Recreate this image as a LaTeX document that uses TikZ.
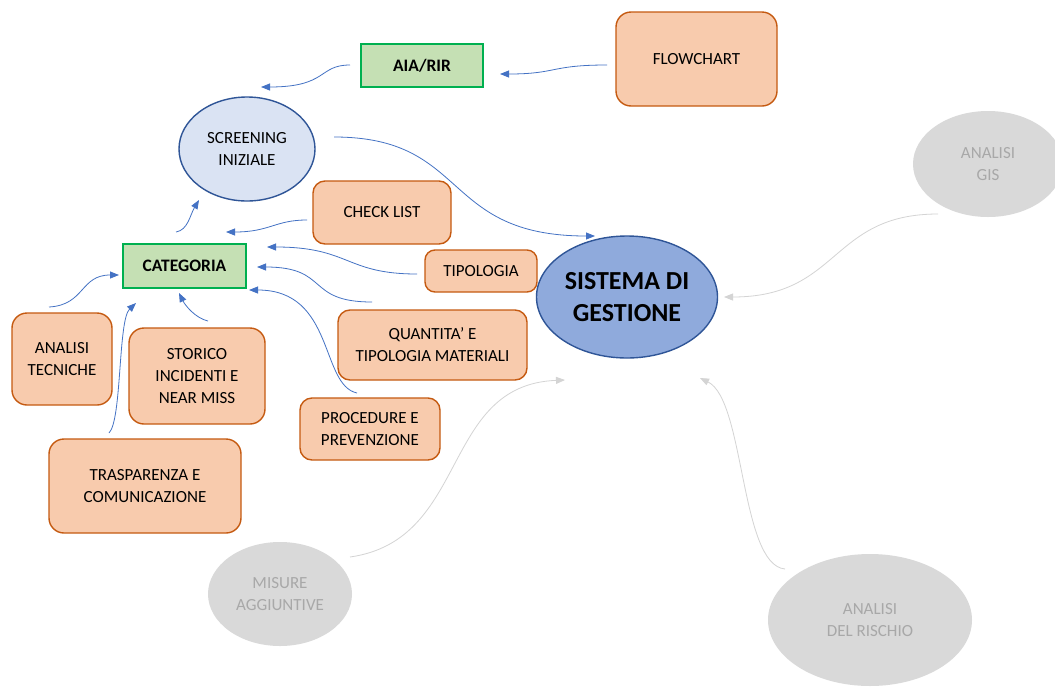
\documentclass[tikz,border=0pt]{standalone}
\usepackage{fontspec}
\setmainfont{Carlito}
\usetikzlibrary{arrows.meta,shapes.geometric}

\definecolor{topicfill}{HTML}{F8CBAD}
\definecolor{topicline}{HTML}{C55A11}
\definecolor{catfill}{HTML}{C5E0B4}
\definecolor{catline}{HTML}{00B050}
\definecolor{scrfill}{HTML}{DAE3F3}
\definecolor{ellline}{HTML}{2F5597}
\definecolor{sysfill}{HTML}{8FAADC}
\definecolor{greyfill}{HTML}{D9D9D9}
\definecolor{greytext}{HTML}{A8A8A8}
\definecolor{flowblue}{HTML}{4472C4}
\definecolor{flowgrey}{HTML}{D4D4D4}

\tikzset{
  txt/.style={font=\fontsize{17}{22}\selectfont, align=center, inner sep=0pt, text=black},
  topic/.style={txt, rectangle, rounded corners=12pt, draw=topicline, fill=topicfill, line width=1.4pt},
  catbox/.style={txt, rectangle, draw=catline, fill=catfill, line width=1.4pt,
                 font=\fontsize{17.5}{22}\selectfont\bfseries},
  oval/.style={txt, ellipse, line width=1.4pt},
  ghost/.style={txt, ellipse, fill=greyfill, draw=none, text=greytext},
  conn/.style={draw=flowblue, line width=0.8pt, -{Triangle[length=9pt,width=7pt]}},
  ghostconn/.style={draw=flowgrey, line width=0.8pt, -{Triangle[length=9pt,width=7pt]}},
}

\begin{document}
\begin{tikzpicture}[x=1pt,y=-1pt]
  \fill[white] (0,0) rectangle (1055,686);
  \useasboundingbox (0,0) rectangle (1055,686);

  % main nodes
  \node[topic, rounded corners=15pt, minimum width=161pt, minimum height=94pt] (flow) at (696.5,59) {FLOWCHART};
  \node[catbox, minimum width=122pt, minimum height=43pt] (aia) at (422,65.5) {AIA/RIR};
  \node[oval, draw=ellline, fill=scrfill, minimum width=136pt, minimum height=104pt] (scr) at (247,149) {SCREENING\\INIZIALE};
  \node[topic, minimum width=138pt, minimum height=63pt] (check) at (382,212.5) {CHECK LIST};
  \node[catbox, minimum width=123pt, minimum height=44pt] (cat) at (184.5,266) {CATEGORIA};
  \node[topic, rounded corners=10pt, minimum width=112pt, minimum height=42pt] (tipo) at (481,271) {TIPOLOGIA};
  \node[topic, minimum width=189pt, minimum height=70pt] (quant) at (432.5,345) {QUANTITA’ E\\TIPOLOGIA MATERIALI};
  \node[oval, draw=ellline, fill=sysfill, minimum width=181pt, minimum height=122pt,
        font=\fontsize{26}{32}\selectfont\bfseries] (sys) at (627,297) {SISTEMA DI\\GESTIONE};
  \node[topic, rounded corners=15pt, minimum width=100pt, minimum height=92pt] (tec) at (62,359) {ANALISI\\TECNICHE};
  \node[topic, rounded corners=15pt, minimum width=136pt, minimum height=96pt] (sto) at (197,376) {STORICO\\INCIDENTI E\\NEAR MISS};
  \node[topic, minimum width=140pt, minimum height=62pt] (proc) at (370,429) {PROCEDURE E\\PREVENZIONE};
  \node[topic, rounded corners=15pt, minimum width=192pt, minimum height=94pt] (tra) at (145,486) {TRASPARENZA E\\COMUNICAZIONE};

  % faded nodes
  \node[ghost, minimum width=144pt, minimum height=104pt] (mis) at (280,594) {MISURE\\AGGIUNTIVE};
  \node[ghost, minimum width=150pt, minimum height=106pt] (gis) at (988,164) {ANALISI\\GIS};
  \node[ghost, minimum width=204pt, minimum height=132pt] (risk) at (870,620) {ANALISI\\DEL RISCHIO};

  % connector end points
  \coordinate (flowS) at (607,65);   \coordinate (aiaT) at (500,74);
  \coordinate (aiaS) at (350,65);    \coordinate (scrT) at (261,87);
  \coordinate (scrS) at (334,137);   \coordinate (sysT) at (595,236);
  \coordinate (catS) at (176,232);   \coordinate (scrB) at (199,200);
  \coordinate (checkS) at (307,220); \coordinate (catA) at (226,232);
  \coordinate (tipoS) at (417,274);  \coordinate (catB) at (267,247);
  \coordinate (quantS) at (372,302); \coordinate (catC) at (257,267);
  \coordinate (procS) at (357,393);  \coordinate (catD) at (249,290);
  \coordinate (stoS) at (208,321);   \coordinate (catE) at (179,293);
  \coordinate (traS) at (109,433);   \coordinate (catF) at (136,303);
  \coordinate (tecS) at (49,307);    \coordinate (catG) at (119,275);
  \coordinate (gisS) at (938,214);   \coordinate (sysA) at (724,297);
  \coordinate (riskS) at (785,569);  \coordinate (sysB) at (700,378);
  \coordinate (misS) at (350,557);   \coordinate (sysC) at (565,380);

  % blue connectors
  \draw[conn] (flowS) .. controls (550,65) and (557,74) .. (aiaT);
  \draw[conn] (aiaS) .. controls (318,65) and (328,87) .. (scrT);
  \draw[conn] (scrS) .. controls (470,137) and (440,236) .. (sysT);
  \draw[conn] (catS) .. controls (188,230) and (190,215) .. (scrB);
  \draw[conn] (checkS) .. controls (275,220) and (270,232) .. (catA);
  \draw[conn] (tipoS) .. controls (345,274) and (350,247) .. (catB);
  \draw[conn] (quantS) .. controls (305,302) and (330,267) .. (catC);
  \draw[conn] (procS) .. controls (320,385) and (335,290) .. (catD);
  \draw[conn] (stoS) .. controls (195,318) and (185,305) .. (catE);
  \draw[conn] (traS) .. controls (122,420) and (118,320) .. (catF);
  \draw[conn] (tecS) .. controls (85,305) and (80,275) .. (catG);

  % faded connectors
  \draw[ghostconn] (gisS) .. controls (830,214) and (840,297) .. (sysA);
  \draw[ghostconn] (riskS) .. controls (740,565) and (745,400) .. (sysB);
  \draw[ghostconn] (misS) .. controls (470,540) and (440,385) .. (sysC);
\end{tikzpicture}
\end{document}
